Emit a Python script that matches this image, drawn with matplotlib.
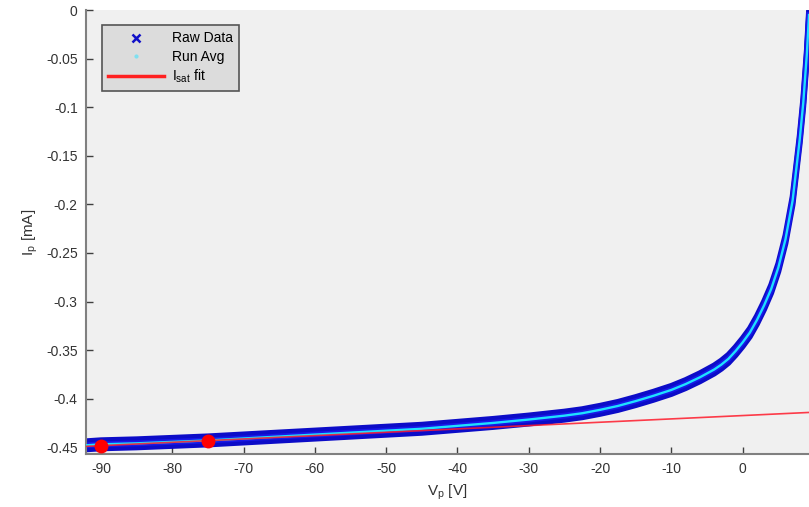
import matplotlib.pyplot as plt
from matplotlib.lines import Line2D
import numpy as np

plt.rcParams['font.family'] = ['Liberation Sans', 'DejaVu Sans']
plt.rcParams['axes.unicode_minus'] = False

# Probe voltage [V] and running average of probe current [mA]
vp = [-92, -90, -85, -80, -75, -70, -65, -60, -55, -50, -45, -40, -35, -30,
      -27.5, -25, -22.5, -20, -17.5, -15, -12.5, -10, -8, -6, -4, -3, -2, -1,
      0, 1, 2, 3, 4, 5, 6, 7, 8, 8.5, 9, 9.3]
ip_avg = [-0.448, -0.447, -0.446, -0.4445, -0.443, -0.441, -0.439, -0.437,
          -0.435, -0.433, -0.431, -0.428, -0.425, -0.4215, -0.4195, -0.4175,
          -0.415, -0.4115, -0.4075, -0.4025, -0.397, -0.391, -0.385, -0.378,
          -0.370, -0.365, -0.359, -0.351, -0.342, -0.332, -0.319, -0.304,
          -0.287, -0.265, -0.236, -0.196, -0.133, -0.095, -0.045, -0.005]
# spread of the raw samples around the average [mA]
raw_spread = [0.0042] * len(vp)

# Isat fit line and the two points it was fitted between
fit_v = [-92.1, 9.3]
fit_i = [-0.4491, -0.4142]
fit_pts_v = [-90, -75]
fit_pts_i = [-0.4485, -0.4434]

xticks = [-90, -80, -70, -60, -50, -40, -30, -20, -10, 0]
yticks = [0, -0.05, -0.1, -0.15, -0.2, -0.25, -0.3, -0.35, -0.4, -0.45]
ytick_labels = ['0', '-0.05', '-0.1', '-0.15', '-0.2', '-0.25', '-0.3',
                '-0.35', '-0.4', '-0.45']

fig = plt.figure(figsize=(8.09, 5.07), dpi=100)
ax = fig.add_axes([0.1063, 0.1045, 0.8937, 0.8755])
ax.set_facecolor('#f0f0f0')

v = np.array(vp)
i = np.array(ip_avg)
s = np.array(raw_spread)
blue = '#1818e8'
ax.fill_between(v, i - s, i + s, color=blue, lw=0, zorder=2)
for edge in (i - s, i + s):
    ax.plot(v, edge, color='#0c0cc8', lw=4.2, zorder=2)
ax.plot(v, i, color=blue, lw=4.2, zorder=2)
ax.plot(v, i, color='#1ee0ff', lw=1.7, zorder=3)
ax.plot(fit_v, fit_i, color='#ff1a2a', lw=1.2, alpha=0.85, zorder=4)
ax.plot(fit_pts_v, fit_pts_i, 'o', color='#ff0000', ms=10, mec='none', zorder=5)

ax.set_xlim(-92.1, 9.3)
ax.set_ylim(-0.457, 0)
ax.set_xticks(xticks)
ax.set_yticks(yticks)
ax.set_yticklabels(ytick_labels)
ax.tick_params(direction='in', length=5, width=1, colors='#404040',
               labelsize=10, labelcolor='#333333', pad=6)
for sp in ['top', 'right']:
    ax.spines[sp].set_visible(False)
for sp in ['left', 'bottom']:
    ax.spines[sp].set_color('#808080')
    ax.spines[sp].set_linewidth(1.5)

ax.set_xlabel('V$_\\mathregular{p}$ [V]', fontsize=11, color='#333333', labelpad=4)
ax.set_ylabel('I$_\\mathregular{p}$ [mA]', fontsize=11, color='#333333', labelpad=4)

handles = [
    Line2D([], [], ls='none', marker='x', color='#1010c8', ms=5.5, mew=1.8),
    Line2D([], [], ls='none', marker='.', color='#7fe0f0', ms=4),
    Line2D([], [], color='#ff2020', lw=2.5),
]
labels = ['Raw Data', 'Run Avg', 'I$_\\mathregular{sat}$ fit']
leg = ax.legend(handles, labels, loc='upper left', bbox_to_anchor=(0.022, 0.966),
                fontsize=10, frameon=True, fancybox=False, borderpad=0.45,
                handlelength=4.0, labelspacing=0.3, handletextpad=0.6,
                borderaxespad=0)
leg.get_frame().set_facecolor('#dcdcdc')
leg.get_frame().set_edgecolor('#555555')
leg.get_frame().set_alpha(1)
leg.get_frame().set_linewidth(1.2)

fig.savefig('out.png', dpi=100)
